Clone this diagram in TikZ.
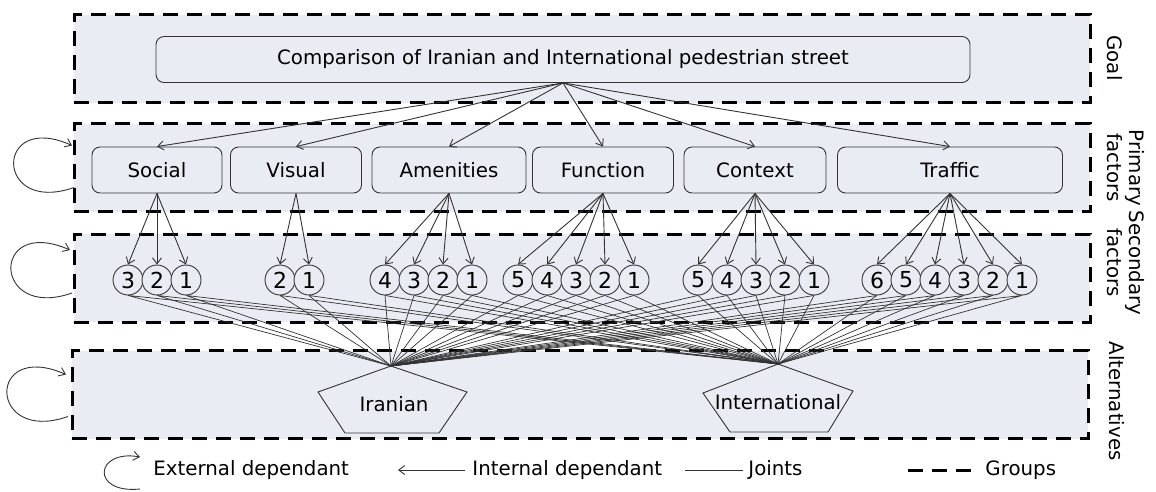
\documentclass[tikz,border=0pt]{standalone}
\usepackage{fontspec}
\setmainfont{DejaVu Sans}
\usetikzlibrary{arrows.meta,calc}
\definecolor{groupfill}{HTML}{E9EDF3}
\definecolor{edgegray}{HTML}{333333}
\begin{document}
\begin{tikzpicture}[x=1pt,y=-1pt,line width=0.9pt,font=\fontsize{19.8}{22}\selectfont,
  >={Straight Barb[length=6pt,width=9pt]}]
\tikzstyle{group}=[draw=black, fill=groupfill, line width=3pt, dash pattern=on 15pt off 9pt, inner sep=0pt, outer sep=0pt, minimum width=1016pt, minimum height=88pt]
\tikzstyle{factor}=[draw=edgegray, fill=groupfill, rounded corners=8pt, minimum height=46pt, inner sep=0pt]
\tikzstyle{sub}=[draw=edgegray, fill=groupfill, circle, minimum size=30pt, inner sep=0pt, font=\fontsize{22}{22}\selectfont]
\tikzstyle{legend}=[anchor=west, inner sep=0pt]
\useasboundingbox (0,0) rectangle (1156,491);

\node[group] (gGoal) at (582,58.5) {};
\node[group] (gPrim) at (582,167.5) {};
\node[group] (gSec) at (582,278) {};
\node[group] (gAlt) at (580,394.5) {};

\node[factor, minimum width=814pt] (goal) at (563,59.5) {Comparison of Iranian and International pedestrian street};
\node[factor, minimum width=130pt] (social) at (157,170) {Social};
\node[factor, minimum width=131pt] (visual) at (296,170) {Visual};
\node[factor, minimum width=154pt] (amenities) at (449,170) {Amenities};
\node[factor, minimum width=141pt] (function) at (603,170) {Function};
\node[factor, minimum width=142pt] (context) at (755,170) {Context};
\node[factor, minimum width=225pt] (traffic) at (950,170) {Traffic};
\foreach \pf in {social,visual,amenities,function,context,traffic}
  \draw[->, edgegray] (goal.south) -- (\pf.north);

\node[inner sep=0pt] (iran) at (394,404) {Iranian};
\coordinate (iranTop) at (391,366);
\draw[edgegray] (iranTop) -- ++(76,26) -- ++(-28,41) -- ++(-94,0) -- ++(-27,-41) -- cycle;
\node[inner sep=0pt] (intl) at (778,402) {International};
\coordinate (intlTop) at (778,364);
\draw[edgegray] (intlTop) -- ++(75,27) -- ++(-25,41) -- ++(-98,0) -- ++(-27,-39) -- cycle;

\foreach \grp/\pf/\first/\n in {soc/social/128/3, vis/visual/280/2, ame/amenities/385/4, fun/function/518/5, con/context/698/5, tra/traffic/877/6}
  \foreach \k in {1,...,\n}{
    \pgfmathtruncatemacro{\lab}{\n-\k+1}
    \node[sub] (\grp\lab) at ({\first+29*(\k-1)},280) {\lab};
    \draw[->, edgegray] (\pf.south) -- (\grp\lab.north);
    \draw[edgegray, line width=0.7pt] (\grp\lab.south) -- (iranTop) (\grp\lab.south) -- (intlTop);
  }

\node[rotate=-90] (labGoal) at (1115,58) {Goal};
\node[rotate=-90, align=center] (labPrim) at (1126,168) {Primary\\factors};
\node[rotate=-90, align=center] (labSec) at (1126,263) {Secondary\\factors};
\node[rotate=-90] (labAlt) at (1117,401) {Alternatives};

\draw[->, edgegray] ($(gPrim.west)+(0,20)$) .. controls +(-80,28) and +(-78,-35) .. ($(gPrim.west)+(-2,-22)$);
\draw[->, edgegray] ($(gSec.west)+(-2,15)$) .. controls +(-80,28) and +(-80,-35) .. ($(gSec.west)+(-4,-28)$);
\draw[->, edgegray] ($(gAlt.west)+(-4,22)$) .. controls +(-80,28) and +(-80,-35) .. ($(gAlt.west)+(-6,-20)$);

\coordinate (legLoopA) at (140,489);
\coordinate (legLoopB) at (140,457);
\draw[->, edgegray] (legLoopA) .. controls +(-50,5) and +(-45,-8) .. (legLoopB);
\node[legend] (legExt) at (153,470) {External dependant};
\node[legend] (legInt) at (472,470) {Internal dependant};
\coordinate (legIntEnd) at (398,470);
\draw[->, edgegray] ($(legInt.west)+(-7,0)$) -- (legIntEnd);
\node[legend] (legJoint) at (748,470) {Joints};
\coordinate (legJointEnd) at (685,470);
\draw[edgegray] ($(legJoint.west)+(-5,0)$) -- (legJointEnd);
\node[legend] (legGroup) at (985,470) {Groups};
\coordinate (legGroupEnd) at (908,470);
\draw[line width=3pt, dash pattern=on 15pt off 9pt] (legGroupEnd) -- ++(63,0);
\end{tikzpicture}
\end{document}
